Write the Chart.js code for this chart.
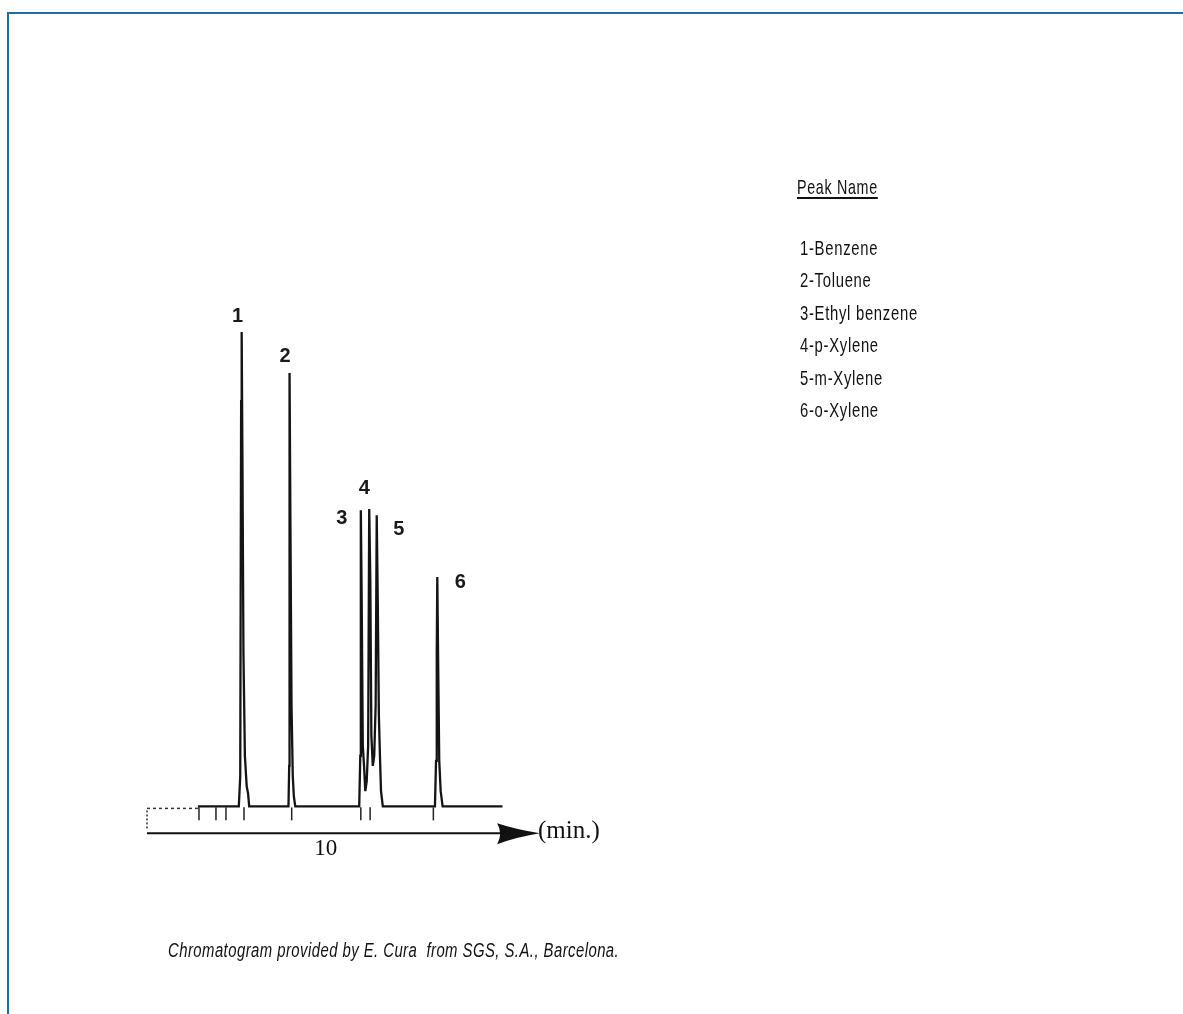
<!DOCTYPE html>
<html>
<head>
<meta charset="utf-8">
<script src="https://cdn.jsdelivr.net/npm/chart.js@4.4.1/dist/chart.umd.min.js"></script>
<style>
  html, body { margin:0; padding:0; width:1183px; height:1014px; overflow:hidden; background:#fff; }
  #frame { position:absolute; left:7px; top:12px; width:1300px; height:1100px;
           border-top:2px solid #1c6fa6; border-left:2px solid #1c6fa6; }
  #wrap { position:absolute; left:0; top:0; width:1183px; height:1014px; }
  .t { position:absolute; white-space:nowrap; font-family:"Liberation Sans", Arial, sans-serif;
       color:#111; transform-origin:0 50%; letter-spacing:1px; }
  #legTitle { left:797px; top:176px; font-size:21px; line-height:21px; text-decoration:underline; text-underline-offset:3px; }
  .row { left:800px; font-size:21px; line-height:21px; }
  #caption { left:168px; top:940px; font-size:20px; line-height:20px; font-style:italic; letter-spacing:0.6px; }
</style>
</head>
<body>
<div id="frame"></div>
<div id="wrap"><canvas id="c"></canvas></div>
<div id="legTitle" class="t">Peak Name</div>
<div id="legend"></div>
<div id="caption" class="t">Chromatogram provided by E. Cura&nbsp; from SGS, S.A., Barcelona.</div>
<script>
// ---- data (minutes / detector response, arbitrary units) ----
const traceTimes  = [2.85, 5.14, 5.22, 5.27, 5.30, 5.34, 5.40, 5.48, 5.58, 5.66, 5.72,
                     7.92, 7.96, 7.98, 8.03, 8.09, 8.16, 8.22, 8.30,
                     11.88, 11.94, 11.97, 12.02, 12.08, 12.15, 12.22, 12.30, 12.38, 12.44, 12.50,
                     12.56, 12.64, 12.72, 12.80, 12.86, 12.92, 12.98, 13.04, 13.10, 13.20,
                     16.12, 16.18, 16.22, 16.25, 16.30, 16.36, 16.44, 16.55, 19.90];
const traceValues = [0, 0, 6, 80, 93.7, 70, 30, 10, 4, 2.5, 0,
                     0, 8, 85.6, 55, 20, 6, 2, 0,
                     0, 10, 58.5, 40, 12, 8, 3, 5, 12, 58.7, 45,
                     14, 8, 10, 20, 57.5, 40, 18, 10, 3, 0,
                     0, 9, 30, 45.3, 28, 9, 3, 0, 0];
const leadInTimes  = [0, 2.85];
const leadInValues = [-0.4, -0.4];
const bracketTimes  = [0, 0];
const bracketValues = [-0.8, -4.7];
const peakTimes   = [5.30, 7.98, 11.97, 12.44, 12.86, 16.25];
const peakHeights = [93.7, 85.6, 58.5, 58.7, 57.5, 45.3];
const peakLabels  = ['1', '2', '3', '4', '5', '6'];
const peakNames   = ['1-Benzene', '2-Toluene', '3-Ethyl benzene', '4-p-Xylene', '5-m-Xylene', '6-o-Xylene'];
const eventTimes  = [2.91, 3.86, 4.42, 5.43, 8.10, 11.97, 12.49, 16.03];
const axisStart = 0, axisEnd = 22, axisLevel = -5.3, arrowBack = 19.6;
const tickValues = [10];
const tickLabels = ['10'];
const axisUnit = '(min.)';

// ---- legend (HTML) ----
const legend = document.getElementById('legend');
peakNames.forEach((n, i) => {
  const d = document.createElement('div');
  d.className = 't row';
  d.style.top = (236.5 + i * 32.5) + 'px';
  d.textContent = n;
  legend.appendChild(d);
});
function fit(el, w) { el.style.transform = 'scaleX(' + (w / el.offsetWidth) + ')'; }
fit(document.getElementById('legTitle'), 81);
fit(document.getElementById('caption'), 451);
const rows = legend.querySelectorAll('.row');
const s = 118 / rows[2].offsetWidth;
rows.forEach(r => r.style.transform = 'scaleX(' + s + ')');

// ---- plugins ----
const labelOffsets = [[-4, -16], [-4.5, -17], [-19, 7], [-5, -22], [22, 13], [23, 5]];
const chromPlugin = {
  id: 'chrom',
  afterDatasetsDraw(chart) {
    const ctx = chart.ctx, xs = chart.scales.x, ys = chart.scales.y;
    ctx.save();
    // event ticks below baseline
    ctx.strokeStyle = '#222'; ctx.lineWidth = 1.5;
    const y0 = ys.getPixelForValue(0);
    eventTimes.forEach(t => {
      const x = xs.getPixelForValue(t);
      ctx.beginPath(); ctx.moveTo(x, y0 + 1); ctx.lineTo(x, y0 + 14); ctx.stroke();
    });
    // time axis with arrow
    const ya = ys.getPixelForValue(axisLevel);
    const xa0 = xs.getPixelForValue(axisStart), xa1 = xs.getPixelForValue(axisEnd);
    const xb = xs.getPixelForValue(arrowBack);
    ctx.strokeStyle = '#111'; ctx.lineWidth = 2;
    ctx.beginPath(); ctx.moveTo(xa0, ya); ctx.lineTo(xb + 4, ya); ctx.stroke();
    ctx.fillStyle = '#111';
    ctx.beginPath();
    ctx.moveTo(xa1, ya);
    ctx.quadraticCurveTo(xb + 18, ya - 4, xb, ya - 10);
    ctx.quadraticCurveTo(xb + 6, ya, xb, ya + 11);
    ctx.quadraticCurveTo(xb + 18, ya + 4, xa1, ya);
    ctx.fill();
    // tick labels
    ctx.font = '23px "Liberation Serif", "Times New Roman", serif';
    ctx.textAlign = 'center'; ctx.textBaseline = 'middle';
    tickValues.forEach((v, i) => ctx.fillText(tickLabels[i], xs.getPixelForValue(v), ya + 16));
    ctx.font = '25px "Liberation Serif", "Times New Roman", serif';
    ctx.textAlign = 'left';
    ctx.fillText(axisUnit, xa1 - 2, ya - 2);
    // peak labels
    ctx.font = 'bold 20px "Liberation Sans", Arial, sans-serif';
    ctx.textAlign = 'center'; ctx.textBaseline = 'middle';
    ctx.fillStyle = '#1a1a1a';
    peakTimes.forEach((t, i) => {
      const x = xs.getPixelForValue(t) + labelOffsets[i][0];
      const y = ys.getPixelForValue(peakHeights[i]) + labelOffsets[i][1];
      ctx.fillText(peakLabels[i], x, y + 1);
    });
    ctx.restore();
  }
};

const toPts = (xs, ys) => xs.map((x, i) => ({ x, y: ys[i] }));
new Chart(document.getElementById('c'), {
  type: 'line',
  data: {
    datasets: [
      { data: toPts(traceTimes, traceValues), borderColor: '#141414', borderWidth: 2.3, pointRadius: 0, tension: 0, clip: false },
      { data: toPts(leadInTimes, leadInValues), borderColor: '#333', borderWidth: 1.5, borderDash: [3, 3], pointRadius: 0, clip: false },
      { data: toPts(bracketTimes, bracketValues), borderColor: '#333', borderWidth: 1.5, borderDash: [2, 2], pointRadius: 0, clip: false }
    ]
  },
  options: {
    responsive: true, maintainAspectRatio: false, animation: false,
    layout: { padding: { left: 147, right: 643, top: 300, bottom: 157 } },
    plugins: { legend: { display: false }, tooltip: { enabled: false } },
    scales: {
      x: { type: 'linear', min: 0, max: 22, display: false },
      y: { type: 'linear', min: -10, max: 100, display: false }
    }
  },
  plugins: [chromPlugin]
});
</script>
</body>
</html>
